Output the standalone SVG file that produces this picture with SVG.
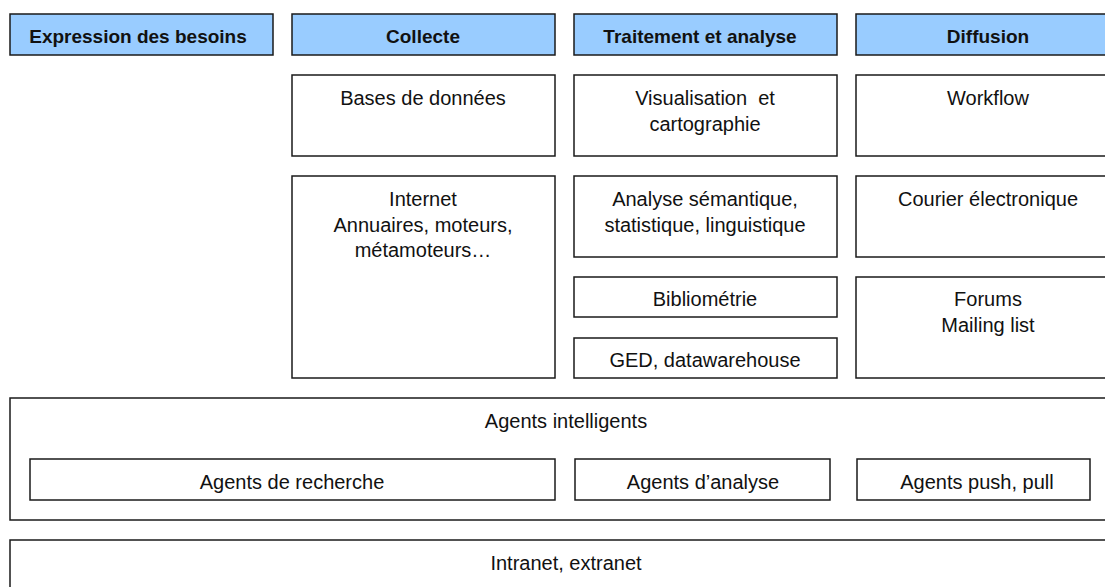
<svg xmlns="http://www.w3.org/2000/svg" width="1105" height="587" viewBox="0 0 1105 587">
<style>
rect{stroke:#1a1a1a;stroke-width:1.5;fill:#fff}
.h rect{fill:#99ccff}
text{font-family:"Liberation Sans",Arial,sans-serif;font-size:20px;fill:#111;text-anchor:middle}
.h text{font-weight:bold;font-size:19px}
</style>
<rect x="0" y="0" width="1105" height="587" style="fill:#fff;stroke:none"/>
<g id="h-expression" class="h"><rect x="10" y="14" width="263" height="41"/><text x="138" y="43">Expression des besoins</text></g>
<g id="h-collecte" class="h"><rect x="292" y="14" width="263" height="41"/><text x="423" y="43">Collecte</text></g>
<g id="h-traitement" class="h"><rect x="574" y="14" width="263" height="41"/><text x="700" y="43">Traitement et analyse</text></g>
<g id="h-diffusion" class="h"><rect x="856" y="14" width="263" height="41"/><text x="988" y="43">Diffusion</text></g>

<g id="bases"><rect x="292" y="75" width="263" height="81"/><text x="423" y="105">Bases de données</text></g>
<g id="visualisation"><rect x="574" y="75" width="263" height="81"/><text x="705" y="105">Visualisation&#160; et</text><text x="705" y="131">cartographie</text></g>
<g id="workflow"><rect x="856" y="75" width="263" height="81"/><text x="988" y="105">Workflow</text></g>

<g id="internet"><rect x="292" y="176" width="263" height="202"/><text x="423" y="206">Internet</text><text x="423" y="232">Annuaires, moteurs,</text><text x="423" y="257">métamoteurs…</text></g>
<g id="analyse"><rect x="574" y="176" width="263" height="81"/><text x="705" y="206">Analyse sémantique,</text><text x="705" y="232">statistique, linguistique</text></g>
<g id="courier"><rect x="856" y="176" width="263" height="81"/><text x="988" y="206">Courier électronique</text></g>

<g id="bibliometrie"><rect x="574" y="277" width="263" height="40"/><text x="705" y="306">Bibliométrie</text></g>
<g id="ged"><rect x="574" y="338" width="263" height="40"/><text x="705" y="367">GED, datawarehouse</text></g>
<g id="forums"><rect x="856" y="277" width="263" height="101"/><text x="988" y="306">Forums</text><text x="988" y="332">Mailing list</text></g>

<g id="agents"><rect x="10" y="398" width="1112" height="122"/><text x="566" y="428">Agents intelligents</text></g>
<g id="agents-recherche"><rect x="30" y="459" width="525" height="41"/><text x="292" y="489">Agents de recherche</text></g>
<g id="agents-analyse"><rect x="575" y="459" width="255" height="41"/><text x="703" y="489">Agents d’analyse</text></g>
<g id="agents-push"><rect x="857" y="459" width="233" height="41"/><text x="977" y="489">Agents push, pull</text></g>

<g id="intranet"><rect x="10" y="540" width="1112" height="60"/><text x="566" y="570">Intranet, extranet</text></g>
<g id="connectors"></g>
</svg>
